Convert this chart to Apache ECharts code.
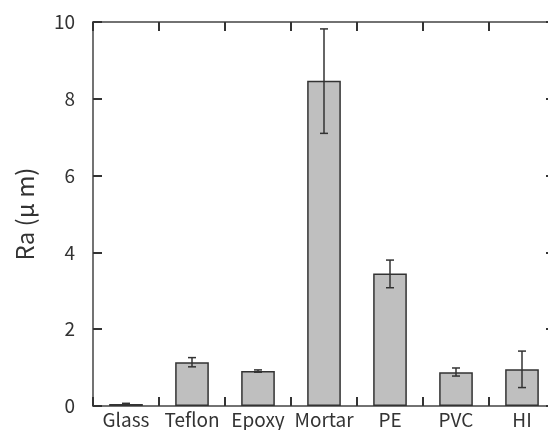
<!DOCTYPE html>
<html>
<head>
<meta charset="utf-8">
<script src="https://cdn.jsdelivr.net/npm/echarts@6/dist/echarts.min.js"></script>
<style>
html,body{margin:0;padding:0;background:#fff}
#main{width:548px;height:430px}
</style>
</head>
<body>
<div id="main"></div>
<script>
var categories = ['Glass','Teflon','Epoxy','Mortar','PE','PVC','HI']
var raValues = [0.05,1.14,0.91,8.47,3.45,0.88,0.96]
var errLow = [0.03,1.02,0.88,7.10,3.08,0.78,0.48]
var errHigh = [0.07,1.26,0.94,9.82,3.80,0.99,1.43]
var yTicks = [0,2,4,6,8,10]

var chart = echarts.init(document.getElementById('main'))

var errData = categories.map(function(c,i){ return [i,errLow[i],errHigh[i]] })

function axisLine(){ return { show:true, onZero:false, lineStyle:{ color:'#444', width:1.5 } } }
function axisTick(){ return { show:true, interval:0, inside:true, length:9, lineStyle:{ color:'#333', width:2 } } }

// grid 462 x 384 ; tick marks drawn as short dashes of the split lines
option = {
    animation:false,
    grid:{ left:93, top:22, width:462, height:384, outerBoundsMode:'none' },
    xAxis:[
        {
            type:'category',
            data:categories,
            axisLine:axisLine(),
            axisTick:axisTick(),
            splitLine:{ show:true, interval:0, lineStyle:{ color:'#333', width:2, type:[9,366,9,1000] } },
            axisLabel:{ interval:0, color:'#333', fontSize:19, margin:4, fontFamily:'Noto Sans CJK JP' }
        },
        {
            type:'category',
            data:categories,
            position:'top',
            axisLine:axisLine(),
            axisTick:axisTick(),
            axisLabel:{ show:false }
        }
    ],
    yAxis:[
        {
            type:'value',
            min:0, max:10, interval:2,
            name:'Ra (μ m)',
            nameLocation:'middle',
            nameGap:56,
            nameTextStyle:{ fontSize:24, color:'#333', fontFamily:'Noto Sans CJK JP' },
            axisLine:axisLine(),
            axisTick:axisTick(),
            axisLabel:{ color:'#333', fontSize:19, margin:18, fontFamily:'Noto Sans CJK JP',
                formatter:function(v){ return yTicks.indexOf(v) >= 0 ? String(v) : '' } },
            splitLine:{ show:true, lineStyle:{ color:'#333', width:2, type:[9,444,9,1000] } }
        },
        {
            type:'value',
            position:'right',
            min:0, max:10, interval:2,
            axisLine:axisLine(),
            axisTick:axisTick(),
            axisLabel:{ show:false },
            splitLine:{ show:false }
        }
    ],
    series:[
        {
            name:'Ra',
            type:'bar',
            barWidth:'51%',
            data:raValues,
            itemStyle:{
                color:'#bfbfbf',
                borderColor:'#333',
                borderWidth:1.5
            }
        },
        {
            name:'err',
            type:'custom',
            data:errData,
            z:10,
            renderItem:function(params,api){
                var x = api.value(0)
                var lo = api.coord([x,api.value(1)])
                var hi = api.coord([x,api.value(2)])
                var w = 4
                var st = { stroke:'#333', lineWidth:1.5 }
                return {
                    type:'group',
                    children:[
                        { type:'line', shape:{ x1:lo[0], y1:lo[1], x2:hi[0], y2:hi[1] }, style:st },
                        { type:'line', shape:{ x1:lo[0]-w, y1:lo[1], x2:lo[0]+w, y2:lo[1] }, style:st },
                        { type:'line', shape:{ x1:hi[0]-w, y1:hi[1], x2:hi[0]+w, y2:hi[1] }, style:st }
                    ]
                }
            }
        }
    ]
}

chart.setOption(option)
</script>
</body>
</html>
